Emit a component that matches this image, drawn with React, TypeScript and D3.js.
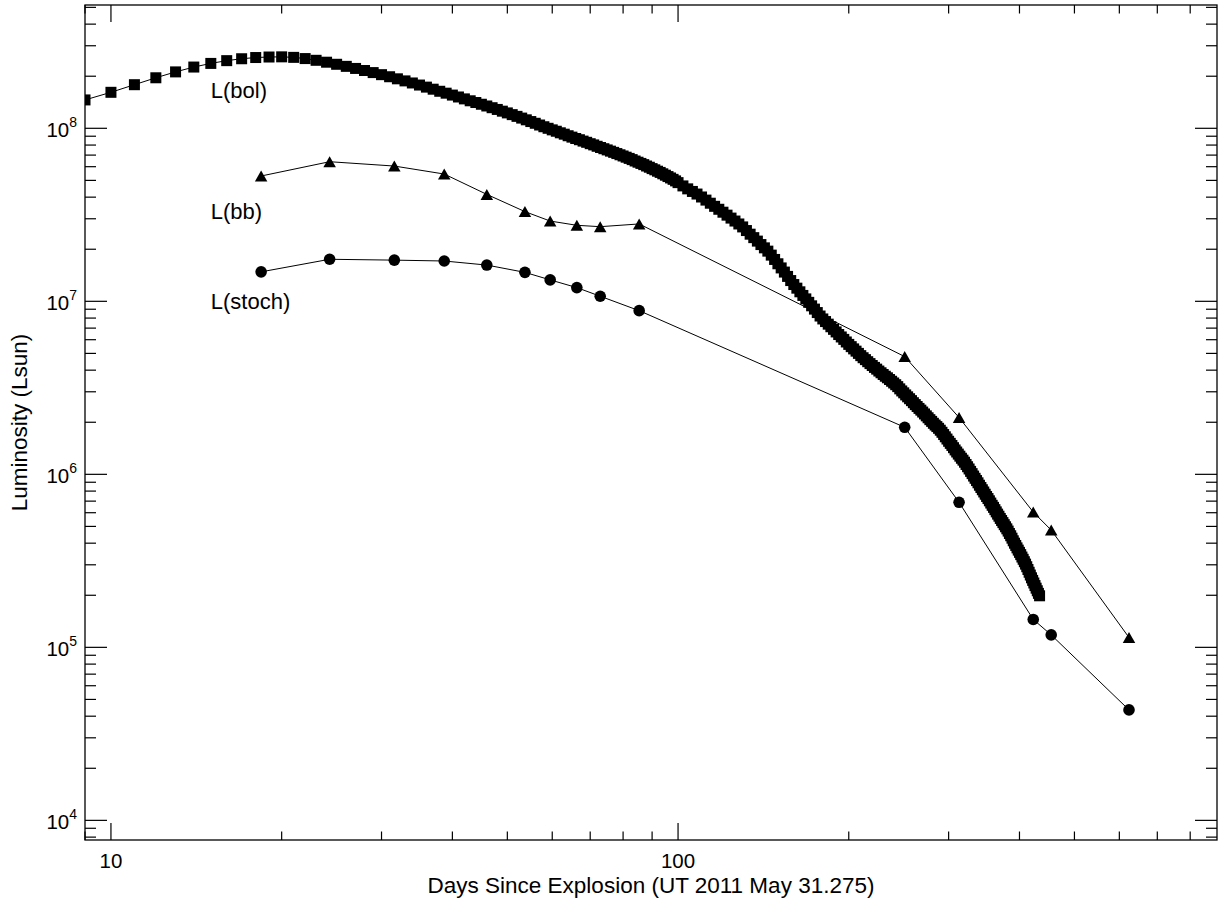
import React from 'react';
import * as d3 from 'd3';

const W = 1222;
const H = 903;
const plot = { left: 85, right: 1217, top: 5, bottom: 840 };

// axis limits (days, Lsun)
const xDomain: [number, number] = [9, 892];
const yDomain: [number, number] = [7.7e3, 5.16e8];

// bolometric light curve (the thick band of squares), log10 Lsun
const bolDays = [
  9, 10, 11, 12, 13, 14, 15, 16, 17, 18, 19, 20, 21, 22, 23, 24, 25, 26, 27, 28, 29, 30,
  31, 32, 33, 34, 35, 36, 37, 38, 39, 40, 41, 42, 43, 44, 45, 46, 47, 48, 49, 50,
  51, 52, 53, 54, 55, 56, 57, 58, 59, 60, 61, 62, 63, 64, 65, 66, 67, 68, 69, 70,
  71, 72, 73, 74, 75, 76, 77, 78, 79, 80, 81, 82, 83, 84, 85, 86, 87, 88, 89, 90,
  91, 92, 93, 94, 95, 96, 97, 98, 99, 100,
  102, 104, 106, 108, 110, 112, 114, 116, 118, 120, 122, 124, 126, 128, 130, 132, 134, 136, 138, 140,
  142, 144, 146, 148, 150, 152, 154, 156, 158, 160, 162, 164, 166, 168, 170, 172, 174, 176, 178, 180,
  182, 184, 186, 188, 190, 192, 194, 196, 198, 200, 202, 204, 206, 208, 210, 212, 214, 216, 218, 220,
  222, 224, 226, 228, 230, 232, 234, 236, 238, 240, 242, 244, 246, 248, 250, 252, 254, 256, 258, 260,
  262, 264, 266, 268, 270, 272, 274, 276, 278, 280, 282, 284, 286, 288, 290, 292, 294, 296, 298, 300,
  302, 304, 306, 308, 310, 312, 314, 316, 318, 320, 322, 324, 326, 328, 330, 332, 334, 336, 338, 340,
  342, 344, 346, 348, 350, 352, 354, 356, 358, 360, 362, 364, 366, 368, 370, 372, 374, 376, 378, 380,
  382, 384, 386, 388, 390, 392, 394, 396, 398, 400, 402, 404, 406, 408, 410, 412, 414, 416, 418, 420,
  422, 424, 426, 428, 430, 432, 434,
];
const bolLogLum = [
  8.164, 8.208, 8.252, 8.292, 8.326, 8.354, 8.375, 8.391, 8.402, 8.409, 8.412, 8.413, 8.410, 8.403,
  8.393, 8.382, 8.370, 8.358, 8.346, 8.334, 8.322, 8.310,
  8.298, 8.286, 8.274, 8.262, 8.250, 8.238, 8.226, 8.214, 8.203, 8.192, 8.181, 8.170, 8.159, 8.149,
  8.139, 8.129, 8.119, 8.109, 8.099, 8.089,
  8.079, 8.069, 8.059, 8.049, 8.039, 8.029, 8.019, 8.009, 8.000, 7.991, 7.983, 7.974, 7.966, 7.957,
  7.949, 7.941, 7.934, 7.926, 7.919, 7.911,
  7.904, 7.896, 7.889, 7.882, 7.875, 7.868, 7.861, 7.854, 7.847, 7.840, 7.833, 7.826, 7.819, 7.811,
  7.804, 7.797, 7.790, 7.782, 7.775, 7.767,
  7.760, 7.752, 7.745, 7.737, 7.729, 7.721, 7.713, 7.705, 7.696, 7.686,
  7.667, 7.650, 7.635, 7.620, 7.603, 7.585, 7.567, 7.549, 7.532, 7.515, 7.498, 7.481, 7.464, 7.447,
  7.430, 7.409, 7.388, 7.368, 7.348, 7.328,
  7.309, 7.290, 7.267, 7.242, 7.217, 7.193, 7.169, 7.144, 7.120, 7.097, 7.076, 7.055, 7.034, 7.014,
  6.994, 6.974, 6.955, 6.935, 6.915, 6.898,
  6.883, 6.868, 6.853, 6.838, 6.823, 6.808, 6.794, 6.780, 6.765, 6.751, 6.738, 6.725, 6.712, 6.699,
  6.686, 6.674, 6.663, 6.651, 6.640, 6.629,
  6.618, 6.608, 6.597, 6.587, 6.577, 6.567, 6.558, 6.548, 6.538, 6.528, 6.518, 6.507, 6.494, 6.482,
  6.471, 6.459, 6.448, 6.437, 6.426, 6.414,
  6.403, 6.392, 6.381, 6.371, 6.360, 6.349, 6.338, 6.327, 6.316, 6.306, 6.295, 6.285, 6.276, 6.266,
  6.255, 6.243, 6.230, 6.217, 6.204, 6.191,
  6.179, 6.167, 6.154, 6.141, 6.129, 6.117, 6.105, 6.093, 6.082, 6.070, 6.057, 6.044, 6.031, 6.017,
  6.004, 5.990, 5.977, 5.964, 5.951, 5.937,
  5.924, 5.911, 5.898, 5.885, 5.872, 5.860, 5.847, 5.834, 5.821, 5.809, 5.796, 5.783, 5.770, 5.758,
  5.745, 5.733, 5.721, 5.709, 5.697, 5.685,
  5.672, 5.658, 5.645, 5.631, 5.616, 5.602, 5.589, 5.575, 5.562, 5.549, 5.536, 5.522, 5.509, 5.495,
  5.481, 5.466, 5.450, 5.434, 5.418, 5.402,
  5.387, 5.372, 5.357, 5.342, 5.327, 5.312, 5.298,
];

// epochs shared by the blackbody and stochastic fits
const epochDays = [18.4, 24.3, 31.6, 38.7, 46.0, 53.7, 59.5, 66.3, 72.9, 85.4, 251, 313, 423, 455, 624];
const bbLum = [5.3e7, 6.41e7, 6.05e7, 5.44e7, 4.15e7, 3.3e7, 2.91e7, 2.75e7, 2.7e7, 2.8e7, 4.79e6, 2.13e6, 6.05e5, 4.76e5, 1.14e5];
const stochLum = [1.48e7, 1.75e7, 1.73e7, 1.71e7, 1.62e7, 1.47e7, 1.33e7, 1.2e7, 1.07e7, 8.83e6, 1.87e6, 6.89e5, 1.45e5, 1.18e5, 4.35e4];

const seriesLabels = [
  { text: 'L(bol)', day: 15, lum: 1.5e8 },
  { text: 'L(bb)', day: 15, lum: 3.0e7 },
  { text: 'L(stoch)', day: 15, lum: 9.0e6 },
];

const xTitle = 'Days Since Explosion (UT 2011 May 31.275)';
const yTitle = 'Luminosity (Lsun)';

const FONT = "'Liberation Sans', Arial, Helvetica, sans-serif";

const App = () => {
  const x = d3.scaleLog().domain(xDomain).range([plot.left, plot.right]);
  const y = d3.scaleLog().domain(yDomain).range([plot.bottom, plot.top]);

  const isMajor = (v: number) => Math.abs(Math.log10(v) - Math.round(Math.log10(v))) < 1e-9;
  const xTicks = x.ticks();
  const yTicks = y.ticks();

  const line = d3.line<[number, number]>()
    .x(d => x(d[0]))
    .y(d => y(d[1]));

  const bol: [number, number][] = bolDays.map((d, i) => [d, Math.pow(10, bolLogLum[i])]);
  const bb: [number, number][] = epochDays.map((d, i) => [d, bbLum[i]]);
  const stoch: [number, number][] = epochDays.map((d, i) => [d, stochLum[i]]);

  const sq = 11;
  const triW = 12.5;
  const triH = 11;
  const tri = (cx: number, cy: number) =>
    `M${cx},${cy - triH / 2}L${cx + triW / 2},${cy + triH / 2}L${cx - triW / 2},${cy + triH / 2}Z`;

  return (
    <svg width={W} height={H} style={{ position: 'absolute', left: 0, top: 0, background: '#fff' }}
      fontFamily={FONT}>
      <defs>
        <clipPath id="plotClip">
          <rect x={plot.left} y={plot.top} width={plot.right - plot.left} height={plot.bottom - plot.top} />
        </clipPath>
      </defs>
      <rect x={0} y={0} width={W} height={H} fill="#fff" />

      <g clipPath="url(#plotClip)">
        {/* blackbody */}
        <path d={line(bb) || ''} fill="none" stroke="#000" strokeWidth={1} />
        {bb.map((d, i) => (
          <path key={'t' + i} d={tri(x(d[0]), y(d[1]))} fill="#000" />
        ))}
        {/* stochastic */}
        <path d={line(stoch) || ''} fill="none" stroke="#000" strokeWidth={1} />
        {stoch.map((d, i) => (
          <circle key={'c' + i} cx={x(d[0])} cy={y(d[1])} r={5.8} fill="#000" />
        ))}
        {/* bolometric */}
        <path d={line(bol) || ''} fill="none" stroke="#000" strokeWidth={1} />
        {bol.map((d, i) => (
          <rect key={'s' + i} x={x(d[0]) - sq / 2} y={y(d[1]) - sq / 2} width={sq} height={sq} fill="#000" />
        ))}
      </g>

      {/* frame */}
      <rect x={plot.left} y={plot.top} width={plot.right - plot.left} height={plot.bottom - plot.top}
        fill="none" stroke="#000" strokeWidth={1.3} />

      {/* x ticks, bottom and top */}
      {xTicks.map((t, i) => {
        const len = isMajor(t) ? 17 : 8.5;
        const px = x(t);
        return (
          <g key={'xt' + i}>
            <line x1={px} x2={px} y1={plot.bottom} y2={plot.bottom - len} stroke="#000" strokeWidth={1.2} />
            <line x1={px} x2={px} y1={plot.top} y2={plot.top + len} stroke="#000" strokeWidth={1.2} />
            {isMajor(t) && (
              <text x={px} y={868} textAnchor="middle" fontSize={20.5} fill="#000">{t}</text>
            )}
          </g>
        );
      })}

      {/* y ticks, left and right */}
      {yTicks.map((t, i) => {
        const len = isMajor(t) ? 22 : 11;
        const py = y(t);
        return (
          <g key={'yt' + i}>
            <line x1={plot.left} x2={plot.left + len} y1={py} y2={py} stroke="#000" strokeWidth={1.2} />
            <line x1={plot.right} x2={plot.right - len} y1={py} y2={py} stroke="#000" strokeWidth={1.2} />
            {isMajor(t) && (
              <text x={77} y={py + 8.4} textAnchor="end" fontSize={20.5} fill="#000">
                10<tspan dy={-10} fontSize={14}>{Math.round(Math.log10(t))}</tspan>
              </text>
            )}
          </g>
        );
      })}

      {/* series labels */}
      {seriesLabels.map((s, i) => (
        <text key={'lab' + i} x={x(s.day)} y={y(s.lum)} fontSize={22} fill="#000">{s.text}</text>
      ))}

      {/* axis titles */}
      <text x={(plot.left + plot.right) / 2} y={892.7} textAnchor="middle" fontSize={22.5} fill="#000">
        {xTitle}
      </text>
      <text transform={`translate(27.3,${(plot.top + plot.bottom) / 2}) rotate(-90)`} textAnchor="middle"
        fontSize={22.5} fill="#000">
        {yTitle}
      </text>
    </svg>
  );
};

export default App;
